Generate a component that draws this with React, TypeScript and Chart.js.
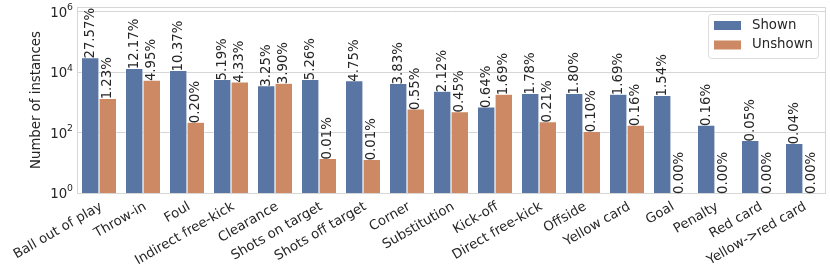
import React, { useEffect, useRef } from "react";
import { Chart, registerables } from "chart.js";

Chart.register(...registerables);

const categories = [
  "Ball out of play", "Throw-in", "Foul", "Indirect free-kick", "Clearance",
  "Shots on target", "Shots off target", "Corner", "Substitution", "Kick-off",
  "Direct free-kick", "Offside", "Yellow card", "Goal", "Penalty", "Red card",
  "Yellow->red card",
];

const shownCounts = [30453, 13443, 11455, 5733, 3590, 5810, 5247, 4231, 2342, 707, 1966, 1988, 1867, 1701, 177, 55, 44];
const unshownCounts = [1359, 5468, 221, 4783, 4308, 14, 13, 608, 497, 1867, 232, 110, 177, 0, 0, 0, 0];

const shownPct = ["27.57%", "12.17%", "10.37%", "5.19%", "3.25%", "5.26%", "4.75%", "3.83%", "2.12%", "0.64%", "1.78%", "1.80%", "1.69%", "1.54%", "0.16%", "0.05%", "0.04%"];
const unshownPct = ["1.23%", "4.95%", "0.20%", "4.33%", "3.90%", "0.01%", "0.01%", "0.55%", "0.45%", "1.69%", "0.21%", "0.10%", "0.16%", "0.00%", "0.00%", "0.00%", "0.00%"];

const seriesNames = ["Shown", "Unshown"];
const yTickValues = [1, 100, 10000, 1000000];
const yTickBase = "10";
const yTickExponents = ["0", "2", "4", "6"];
const yTitle = "Number of instances";

const BLUE = "#5875A4";
const ORANGE = "#CC8963";
const GRID = "#d6d6d6";
const TEXT = "#262626";
const FONT = "DejaVu Sans";
const FS = 13.3;

export default function App() {
  const ref = useRef<HTMLCanvasElement | null>(null);

  useEffect(() => {
    const canvas = ref.current;
    if (!canvas) return;
    const pctLabels = [shownPct, unshownPct];

    const overlay = {
      id: "overlay",
      afterDatasetsDraw(chart: any) {
        const ctx = chart.ctx;
        const area = chart.chartArea;
        // top & right spines
        ctx.save();
        ctx.strokeStyle = GRID;
        ctx.lineWidth = 1;
        ctx.beginPath();
        ctx.moveTo(area.left, area.top + 0.5);
        ctx.lineTo(area.right + 0.5, area.top + 0.5);
        ctx.lineTo(area.right + 0.5, area.bottom);
        ctx.stroke();
        ctx.restore();

        // y tick labels (base + superscript exponent)
        const ys = chart.scales.y;
        ctx.save();
        ctx.fillStyle = TEXT;
        ctx.textBaseline = "middle";
        ctx.textAlign = "right";
        yTickValues.forEach((v, k) => {
          const py = ys.getPixelForValue(v);
          const rightX = area.left - 4;
          ctx.font = `9.3px "${FONT}"`;
          const ew = ctx.measureText(yTickExponents[k]).width;
          ctx.fillText(yTickExponents[k], rightX, py - 4);
          ctx.font = `${FS}px "${FONT}"`;
          ctx.fillText(yTickBase, rightX - ew, py + 1.5);
        });
        ctx.restore();

        // value labels
        ctx.save();
        ctx.fillStyle = TEXT;
        ctx.font = `${FS}px "${FONT}"`;
        ctx.textAlign = "left";
        ctx.textBaseline = "middle";
        chart.data.datasets.forEach((ds: any, di: number) => {
          const meta = chart.getDatasetMeta(di);
          meta.data.forEach((el: any, i: number) => {
            const v = ds.data[i];
            const y = v == null ? area.bottom : el.y;
            ctx.save();
            ctx.translate(el.x, y + 1);
            ctx.rotate(-Math.PI / 2);
            ctx.fillText(pctLabels[di][i], 0, 0);
            ctx.restore();
          });
        });
        ctx.restore();

        // x tick labels
        const xs = chart.scales.x;
        ctx.save();
        ctx.fillStyle = TEXT;
        ctx.font = `${FS}px "${FONT}"`;
        ctx.textAlign = "right";
        ctx.textBaseline = "top";
        categories.forEach((c, i) => {
          const x = xs.getPixelForValue(i);
          ctx.save();
          ctx.translate(x - 1, area.bottom + 7);
          ctx.rotate(-Math.PI / 6);
          ctx.fillText(c, 0, 0);
          ctx.restore();
        });
        ctx.restore();

        // legend
        ctx.save();
        const lx = 708.5, ly = 14.5, lw = 110, lh = 44;
        ctx.beginPath();
        (ctx as any).roundRect(lx, ly, lw, lh, 3);
        ctx.fillStyle = "rgba(255,255,255,0.85)";
        ctx.fill();
        ctx.strokeStyle = "#dcdcdc";
        ctx.lineWidth = 1;
        ctx.stroke();
        const colors = [BLUE, ORANGE];
        ctx.font = `${FS}px "${FONT}"`;
        ctx.textAlign = "left";
        ctx.textBaseline = "middle";
        seriesNames.forEach((n, k) => {
          const ry = 21 + k * 19.5;
          ctx.fillStyle = colors[k];
          ctx.fillRect(714, ry, 27, 9);
          ctx.fillStyle = TEXT;
          ctx.fillText(n, 752, ry + 4.5);
        });
        ctx.restore();
      },
    };

    const chart = new Chart(canvas, {
      type: "bar",
      data: {
        labels: categories,
        datasets: [
          {
            label: seriesNames[0],
            data: shownCounts.map((v) => (v > 0 ? v : null)),
            backgroundColor: BLUE,
            borderColor: "rgba(255,255,255,0.9)",
            borderWidth: 0.6,
          },
          {
            label: seriesNames[1],
            data: unshownCounts.map((v) => (v > 0 ? v : null)),
            backgroundColor: ORANGE,
            borderColor: "rgba(255,255,255,0.9)",
            borderWidth: 0.6,
          },
        ],
      },
      options: {
        responsive: false,
        animation: false,
        devicePixelRatio: 1,
        layout: { padding: { left: 0, right: 5, top: 7, bottom: 0 } },
        plugins: { legend: { display: false }, tooltip: { enabled: false } },
        datasets: { bar: { categoryPercentage: 0.8, barPercentage: 1.0 } },
        scales: {
          x: {
            grid: { display: false },
            border: { display: true, color: GRID },
            ticks: { display: false },
            afterFit: (s: any) => {
              s.height = 79;
            },
          },
          y: {
            type: "logarithmic",
            min: 1,
            max: 1.44e6,
            afterBuildTicks: (s: any) => {
              s.ticks = yTickValues.map((v) => ({ value: v }));
            },
            ticks: { display: false },
            grid: { color: GRID, drawTicks: false, lineWidth: 1 },
            border: { display: true, color: GRID },
            title: {
              display: true,
              text: yTitle,
              font: { family: FONT, size: FS },
              color: TEXT,
              padding: { top: 29, bottom: 0 },
            },
            afterFit: (s: any) => {
              s.width = 77;
            },
          },
        },
      },
      plugins: [overlay],
    });
    return () => chart.destroy();
  }, []);

  return (
    <div style={{ position: "fixed", left: 0, top: 0, width: 830, height: 272, background: "#fff" }}>
      <canvas ref={ref} width={830} height={272} style={{ width: 830, height: 272, display: "block" }} />
    </div>
  );
}
